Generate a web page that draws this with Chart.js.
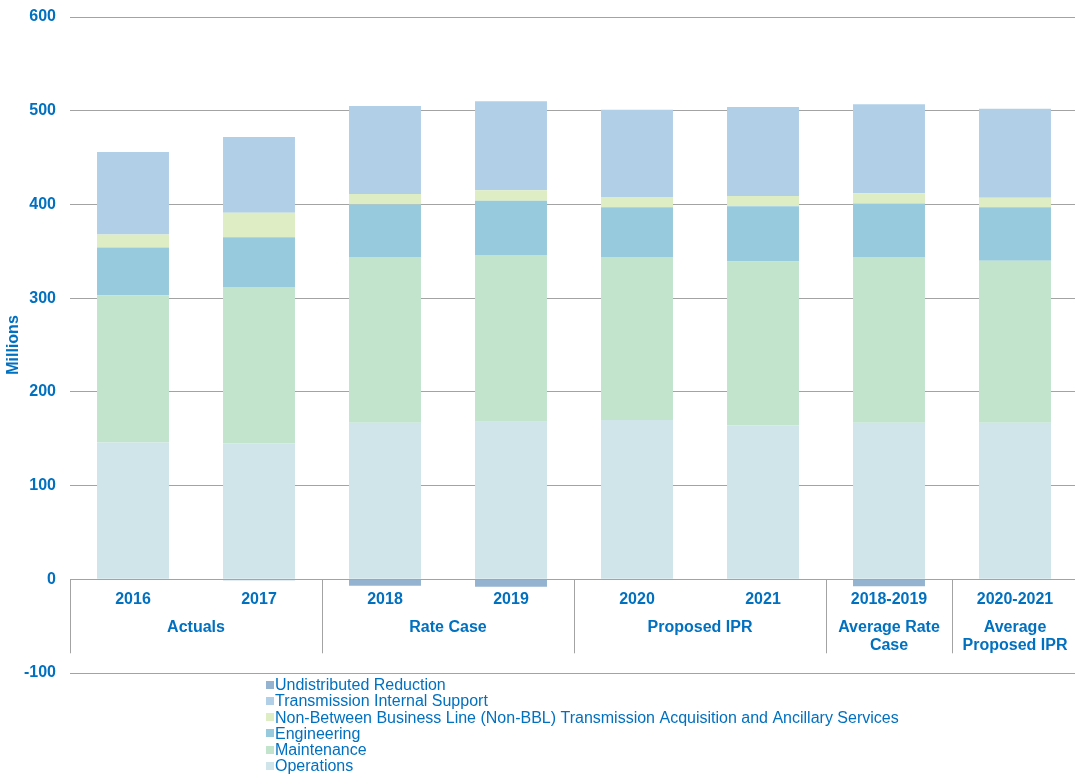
<!DOCTYPE html>
<html><head><meta charset="utf-8">
<script src="https://cdn.jsdelivr.net/npm/chart.js@4"></script>
<style>html,body{margin:0;padding:0;background:#fff;overflow:hidden;width:1075px;height:779px}</style>
</head><body>
<canvas id="c" width="1078" height="779"></canvas>
<script>
const categories = ['2016','2017','2018','2019','2020','2021','2018-2019','2020-2021'];
const operations = [146,145,167,168,170,164,167,167];
const maintenance = [157,167,177,178,174,175,177,173];
const engineering = [51,53,56,58,53,59,57,57];
const nonBBL = [14,26,11,11,11,11,11,10];
const internalSupport = [88,81,94,95,93,95,95,95];
const undistributed = [0,-1,-7,-8,0,0,-7.5,0];
const groupLabels = [['Actuals'],['Rate Case'],['Proposed IPR'],['Average Rate','Case'],['Average','Proposed IPR']];
const groupSizes = [2,2,2,1,1];
const yMin = -100, yMax = 600, yStep = 100;

const BLUE = '#0070C0';
const GRID = '#a3a3a3';
const FONT = '"Liberation Sans", Arial, sans-serif';

const datasets = [
  {label:'Operations', data:operations, backgroundColor:'#CFE5EA'},
  {label:'Maintenance', data:maintenance, backgroundColor:'#C2E4CD'},
  {label:'Engineering', data:engineering, backgroundColor:'#97CADC'},
  {label:'Non-Between Business Line (Non-BBL) Transmission Acquisition and Ancillary Services', data:nonBBL, backgroundColor:'#DFEDC4'},
  {label:'Transmission Internal Support', data:internalSupport, backgroundColor:'#B2CFE8'},
  {label:'Undistributed Reduction', data:undistributed, backgroundColor:'#94B3D0'}
];

const extras = {
  id:'extras',
  afterDraw(chart){
    const ctx = chart.ctx, x = chart.scales.x, y = chart.scales.y;
    const y0 = y.getPixelForValue(0);
    const half = (x.getPixelForValue(1) - x.getPixelForValue(0)) / 2;
    ctx.save();
    let idx = 0;
    const bounds = [];
    ctx.font = 'bold 16px ' + FONT;
    ctx.fillStyle = BLUE;
    ctx.textAlign = 'center';
    ctx.textBaseline = 'middle';
    groupSizes.forEach((n, g) => {
      const left = x.getPixelForValue(idx) - half;
      const right = x.getPixelForValue(idx + n - 1) + half;
      bounds.push(left);
      groupLabels[g].forEach((line, i) => ctx.fillText(line, (left + right) / 2, y0 + 48 + i * 18));
      idx += n;
    });
    ctx.strokeStyle = GRID; ctx.lineWidth = 1;
    bounds.forEach(b => {
      const xx = Math.round(b) + 0.5;
      ctx.beginPath(); ctx.moveTo(xx, y0); ctx.lineTo(xx, y0 + 74); ctx.stroke();
    });
    // legend (vertical list)
    const items = chart.data.datasets.slice().reverse();
    ctx.font = '16px ' + FONT;
    ctx.textAlign = 'left';
    items.forEach((ds, i) => {
      const cy = 684.5 + i * 16.3;
      ctx.fillStyle = ds.backgroundColor;
      ctx.fillRect(266, Math.round(cy - 4), 8, 8);
      ctx.fillStyle = BLUE;
      ctx.fillText(ds.label, 275, cy + 1);
    });
    ctx.restore();
  }
};

new Chart(document.getElementById('c'), {
  type:'bar',
  data:{labels:categories, datasets},
  plugins:[extras],
  options:{
    responsive:false,
    animation:false,
    layout:{padding:{top:17, right:0, bottom:106, left:0}},
    datasets:{bar:{barPercentage:0.571, categoryPercentage:1, borderWidth:0}},
    plugins:{legend:{display:false}, tooltip:{enabled:false}},
    scales:{
      x:{
        stacked:true,
        position:{y:0},
        grid:{display:false, drawTicks:false},
        border:{display:false},
        ticks:{color:BLUE, font:{family:FONT, size:16, weight:'bold'}, padding:11, maxRotation:0, autoSkip:false}
      },
      y:{
        stacked:true,
        min:yMin, max:yMax,
        afterFit(s){ s.width = 70; s.paddingTop = 0; s.paddingBottom = 0; },
        grid:{color:GRID, lineWidth:1, drawTicks:false},
        border:{display:false},
        ticks:{stepSize:yStep, color:BLUE, font:{family:FONT, size:16, weight:'bold'}, padding:14},
        title:{display:true, text:'Millions', color:BLUE, font:{family:FONT, size:16, weight:'bold'}, padding:{top:4, bottom:0}}
      }
    }
  }
});
</script>
</body></html>
